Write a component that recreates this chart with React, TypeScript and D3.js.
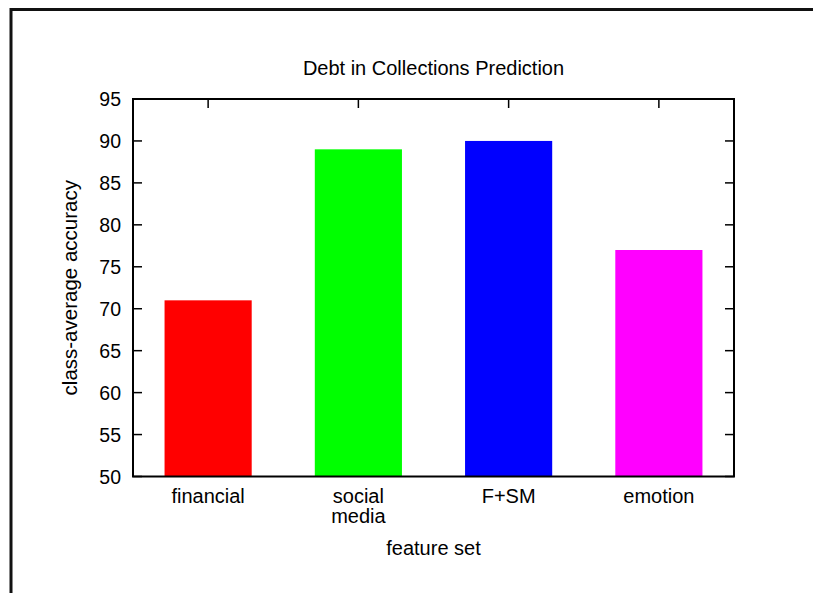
import React, { useRef, useEffect } from 'react';
import * as d3 from 'd3';

const categories = ['financial', 'social\nmedia', 'F+SM', 'emotion'];
const accuracy = [71, 89, 90, 77];
const barColors = ['#ff0000', '#00ff00', '#0000ff', '#ff00ff'];
const yTicks = [50, 55, 60, 65, 70, 75, 80, 85, 90, 95];

const App = () => {
    const svgRef = useRef<SVGSVGElement>(null);

    useEffect(() => {
        const svg = d3.select(svgRef.current);
        svg.selectAll('*').remove();

        const font = '"Liberation Sans", Arial, sans-serif';
        const left = 133, right = 734, top = 99, bottom = 476.5;
        const tickLen = 9;

        // outer page frame (top and left edges only)
        svg.append('line')
            .attr('x1', 10).attr('x2', 813).attr('y1', 9.5).attr('y2', 9.5)
            .attr('stroke', '#111').attr('stroke-width', 3);
        svg.append('line')
            .attr('x1', 11).attr('x2', 11).attr('y1', 8).attr('y2', 593)
            .attr('stroke', '#111').attr('stroke-width', 3);

        const x = d3.scaleBand()
            .domain(categories)
            .range([left, right])
            .padding(0);

        const y = d3.scaleLinear()
            .domain([50, 95])
            .range([bottom, top]);

        const g = svg.append('g');

        // ticks (inward, mirrored) drawn before the bars
        yTicks.forEach(t => {
            g.append('line')
                .attr('x1', left).attr('x2', left + tickLen)
                .attr('y1', y(t)).attr('y2', y(t))
                .attr('stroke', '#000').attr('stroke-width', 1.5);
            g.append('line')
                .attr('x1', right - tickLen).attr('x2', right)
                .attr('y1', y(t)).attr('y2', y(t))
                .attr('stroke', '#000').attr('stroke-width', 1.5);
        });
        categories.forEach(c => {
            const cx = (x(c) as number) + x.bandwidth() / 2;
            g.append('line')
                .attr('x1', cx).attr('x2', cx)
                .attr('y1', top).attr('y2', top + tickLen)
                .attr('stroke', '#000').attr('stroke-width', 1.5);
        });

        // bars
        const barW = x.bandwidth() * 0.58;
        g.selectAll('.bar')
            .data(accuracy)
            .join('rect')
            .attr('class', 'bar')
            .attr('x', (d, i) => (x(categories[i]) as number) + (x.bandwidth() - barW) / 2)
            .attr('y', d => y(d))
            .attr('width', barW)
            .attr('height', d => bottom - y(d))
            .attr('fill', (d, i) => barColors[i]);

        // plot border
        g.append('rect')
            .attr('x', left).attr('y', top)
            .attr('width', right - left).attr('height', bottom - top)
            .attr('fill', 'none').attr('stroke', '#000').attr('stroke-width', 2);

        // y tick labels
        g.selectAll('.ylab')
            .data(yTicks)
            .join('text')
            .attr('class', 'ylab')
            .attr('x', left - 12)
            .attr('y', d => y(d))
            .attr('dy', '0.36em')
            .attr('text-anchor', 'end')
            .attr('font-family', font)
            .attr('font-size', 19.5)
            .attr('fill', '#000')
            .text(d => d);

        // x tick labels (multi-line)
        categories.forEach(c => {
            const cx = (x(c) as number) + x.bandwidth() / 2;
            const t = g.append('text')
                .attr('text-anchor', 'middle')
                .attr('font-family', font)
                .attr('font-size', 20)
                .attr('fill', '#000');
            c.split('\n').forEach((line, i) => {
                t.append('tspan')
                    .attr('x', cx)
                    .attr('y', 503 + i * 20)
                    .text(line);
            });
        });

        // title
        svg.append('text')
            .attr('x', (left + right) / 2)
            .attr('y', 75)
            .attr('text-anchor', 'middle')
            .attr('font-family', font)
            .attr('font-size', 20)
            .attr('fill', '#000')
            .text('Debt in Collections Prediction');

        // x axis label
        svg.append('text')
            .attr('x', (left + right) / 2)
            .attr('y', 555)
            .attr('text-anchor', 'middle')
            .attr('font-family', font)
            .attr('font-size', 20)
            .attr('fill', '#000')
            .text('feature set');

        // y axis label
        svg.append('text')
            .attr('transform', `translate(77,${(top + bottom) / 2}) rotate(-90)`)
            .attr('text-anchor', 'middle')
            .attr('font-family', font)
            .attr('font-size', 20.5)
            .attr('fill', '#000')
            .text('class-average accuracy');
    }, []);

    return (
        <svg ref={svgRef} width="813" height="593"
            style={{ position: 'absolute', left: 0, top: 0, background: '#fff' }}></svg>
    );
};

export default App;
